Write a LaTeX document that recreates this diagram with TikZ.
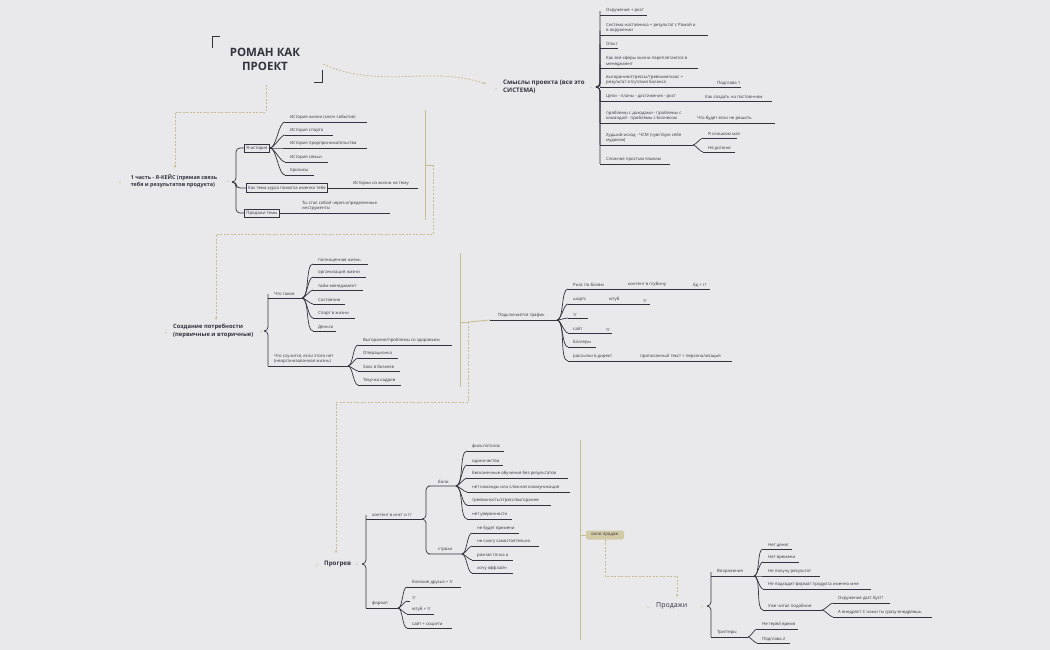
\documentclass[tikz,border=0pt]{standalone}
\usepackage{fontspec}
\setmainfont{Open Sans}
\usetikzlibrary{arrows.meta}
\definecolor{bg}{HTML}{E9E9EB}
\definecolor{ink}{HTML}{33333F}
\definecolor{gold}{HTML}{C8BD92}
\definecolor{goldbox}{HTML}{D3CAA6}
\tikzset{
  lt/.style={inner sep=0pt,anchor=south west,align=left,text=ink,font=\fontsize{4.3}{5.6}\selectfont},
  ln/.style={draw=ink,line width=0.7pt},
  br/.style={out=0,in=180,looseness=0.55},
  el/.style={ln,rounded corners=4pt},
  gd/.style={draw=gold,line width=0.8pt,dash pattern=on 2pt off 1.5pt},
  gs/.style={draw=gold,line width=0.9pt},
  main/.style={inner sep=0pt,align=left,text=ink,font=\bfseries\fontsize{6.2}{8}\selectfont},
  qt/.style={inner sep=0pt,text=gold,font=\fontsize{6}{6}\selectfont},
  bx/.style={draw=ink,line width=0.7pt,inner sep=2pt,text=ink,font=\fontsize{4.3}{5.6}\selectfont},
}
\newcommand\mmLeaf[6]{%
  \coordinate (#1u) at (#3,#4);
  \node[lt] (#1) at ({#3+5},{#4-1.8}) {#6};
  \draw[ln] (#1u) -- (#5,#4);
  \draw[ln] (#2) to[br] (#1u);}
\newcommand\mmElb[6]{%
  \coordinate (#1u) at (#3,#4);
  \node[lt] (#1) at ({#3+6},{#4-1.8}) {#6};
  \draw[ln] (#1u) -- (#5,#4);
  \draw[el] (#2) -- ++(4,0) |- (#1u);}
\newcommand\mmCont[6]{%
  \node[lt] (#1) at (#5,{#3-1.8}) {#6};
  \draw[ln] (#2,#3) -- (#4,#3);}
\begin{document}
\begin{tikzpicture}[x=1pt,y=-1pt]
\fill[bg] (0,0) rectangle (1050,650);
\useasboundingbox (0,0) rectangle (1050,650);

% ---------- title ----------
\node[inner sep=0pt,align=center,text=ink,font=\bfseries\fontsize{11.5}{14}\selectfont] (title) at (265,59) {РОМАН КАК\\ПРОЕКТ};
\draw[ink,line width=0.8pt] (212,48) -- (212,36) -- (220,36);
\draw[ink,line width=0.8pt] (314,82) -- (322,82) -- (322,70);

% ---------- section 1 ----------
\node[main,font=\bfseries\fontsize{5.4}{7}\selectfont] (s1) at (174,181) {1 часть - Я-КЕЙС (прямая связь\\тебя и результатов продукта)};
\node[qt] (s1q1) at (120,184) {“};
\node[qt] (s1q2) at (228,183) {”};
\coordinate (j1) at (232,182);
\node[bx] (ya) at (257,148) {Я-история};
\node[bx] (kak) at (287,188) {Как тема курса помогла именно тебе};
\node[bx] (prt) at (262,213) {Продажи темы};
\draw[el] (j1) -- ++(4,0) |- (ya.west);
\draw[el] (j1) -- ++(4,0) |- (kak.west);
\draw[el] (j1) -- ++(4,0) |- (prt.west);
\coordinate (jya) at (ya.east);
\mmLeaf{a1}{jya}{285}{122}{367}{История жизни (ключ событие)}
\mmLeaf{a2}{jya}{285}{135}{333}{История спорта}
\mmLeaf{a3}{jya}{285}{148}{367}{История предпринимательства}
\mmLeaf{a4}{jya}{285}{162}{328}{История семьи}
\mmLeaf{a5}{jya}{285}{175}{314}{Кризисы}
\draw[ln] (kak.east) -- (418,188);
\node[lt] (a6) at (353,186.2) {Истории из жизни на тему};
\draw[ln] (prt.east) -- (390,213);
\node[lt] (a7) at (302,211) {Ты стал собой через определенные\\инструменты};

% ---------- Смыслы ----------
\node[main,anchor=west] (s2) at (503,87) {Смыслы проекта (все это\\СИСТЕМА)};
\node[qt] (s2q1) at (496,90) {“};
\node[qt] (s2q2) at (591,89) {”};
\coordinate (j2) at (596,87);
\mmElb{b1}{j2}{600}{15}{647}{Окружение + рост}
\mmElb{b2}{j2}{600}{35}{708}{Система наставника = результат с Ромой и\\в окружении}
\mmElb{b3}{j2}{600}{48}{618}{Опыт}
\mmElb{b4}{j2}{600}{68}{698}{Как все сферы жизни переплетаются в\\менеджмент}
\mmElb{b5}{j2}{600}{87}{711}{выгорание/стрессы/тревожке/хаос =\\результат отсутсвия баланса}
\mmCont{b5a}{711}{87}{741}{717}{Подглава 1}
\mmElb{b6}{j2}{600}{101}{680}{Цели - планы - достижения - рост}
\mmCont{b6a}{680}{101}{772}{705}{Как создать на постоянном}
\mmElb{b7}{j2}{600}{123}{680}{проблемы с доходами - проблемы с\\командой - проблемы с бизнесом}
\mmCont{b7a}{680}{123}{775}{697}{Что будет если не решить}
\mmElb{b8}{j2}{600}{145}{693}{Худший исход - ЧСМ (чувствую себя\\мудаком)}
\coordinate (jb8) at (693,145);
\mmLeaf{b8a}{jb8}{703}{138}{737}{Я слишком мал}
\mmLeaf{b8b}{jb8}{703}{152}{735}{Не догоню}
\mmElb{b9}{j2}{600}{164}{670}{Сложное простым языком}

% ---------- Создание потребности ----------
\node[main,anchor=west,font=\bfseries\fontsize{5.8}{7.5}\selectfont] (s3) at (173,331) {Создание потребности\\(первичные и вторичные)};
\node[qt] (s3q1) at (166,334) {“};
\node[qt] (s3q2) at (261,333) {”};
\coordinate (j3) at (264,331);
\mmElb{c1}{j3}{268}{298}{302}{Что такое}
\coordinate (jc1) at (302,298);
\mmLeaf{c11}{jc1}{313}{264}{368}{полноценная жизнь}
\mmLeaf{c12}{jc1}{313}{277}{366}{организация жизни}
\mmLeaf{c13}{jc1}{313}{290}{363}{тайм-менеджмент}
\mmLeaf{c14}{jc1}{313}{304}{345}{Состояние}
\mmLeaf{c15}{jc1}{313}{318}{355}{Спорт в жизни}
\mmLeaf{c16}{jc1}{313}{331}{336}{Деньги}
\mmElb{c2}{j3}{268}{366}{348}{Что случится, если этого нет\\(неорганизованная жизнь)}
\coordinate (jc2) at (348,366);
\mmLeaf{c21}{jc2}{358}{345}{452}{Выгорание/проблемы со здоровьем}
\mmLeaf{c22}{jc2}{358}{358}{398}{Операционка}
\mmLeaf{c23}{jc2}{358}{371}{400}{Хаос в бизнесе}
\mmLeaf{c24}{jc2}{358}{385}{401}{Текучка кадров}

% ---------- Подключается трафик ----------
\node[lt] (s4) at (498,318.2) {Подключается трафик};
\coordinate (s4u) at (490,320);
\draw[ln] (s4u) -- (557,320);
\coordinate (j4) at (557,320);
\mmLeaf{d1}{j4}{568}{289}{628}{Рилс по болям}
\mmCont{d1a}{628}{289}{693}{628}{контент в глубину}
\mmCont{d1b}{693}{289}{710}{693}{бд + тг}
\mmLeaf{d2}{j4}{568}{304}{609}{шортс}
\mmCont{d2a}{609}{304}{643}{609}{ютуб}
\mmCont{d2b}{643}{304}{650}{643}{тг}
\mmLeaf{d3}{j4}{568}{318}{588}{тг}
\mmLeaf{d4}{j4}{568}{333}{606}{сайт}
\mmCont{d4a}{606}{333}{612}{606}{тг}
\mmLeaf{d5}{j4}{568}{347}{596}{Блогеры}
\mmLeaf{d6}{j4}{568}{361}{640}{рассылки в директ}
\mmCont{d6a}{640}{361}{732}{640}{прописанный текст + персонализация}

% ---------- Прогрев ----------
\node[main,anchor=west] (s5) at (324,564) {Прогрев};
\node[qt] (s5q1) at (317,567) {“};
\node[qt] (s5q2) at (357,566) {”};
\coordinate (j5) at (362,564);
\mmElb{e1}{j5}{366}{519}{422}{контент в инст и тг}
\coordinate (je1) at (422,519);
\draw[el] (je1) -- ++(4,0) |- (432,486) -- (456,486);
\node[lt] (e11) at (438,484.2) {боли};
\draw[el] (je1) -- ++(4,0) |- (432,554) -- (462,554);
\node[lt] (e12) at (438,552.2) {страхи};
\coordinate (je11) at (456,486);
\mmLeaf{f1}{je11}{467}{451}{504}{фильпотолок}
\mmLeaf{f2}{je11}{467}{465}{503}{одиночество}
\mmLeaf{f3}{je11}{467}{478}{568}{бесконечные обучения без результатов}
\mmLeaf{f4}{je11}{467}{492}{570}{нет команды или сложная коммуникация}
\mmLeaf{f5}{je11}{467}{505}{551}{тревожность/стресс/выгорание}
\mmLeaf{f6}{je11}{467}{519}{512}{нет уверенности}
\coordinate (je12) at (462,554);
\mmLeaf{g1}{je12}{472}{533}{519}{не будет времени}
\mmLeaf{g2}{je12}{472}{546}{539}{не смогу самостоятельно}
\mmLeaf{g3}{je12}{472}{560}{513}{разная точка а}
\mmLeaf{g4}{je12}{472}{573}{513}{хочу оффлайн}
\mmElb{e2}{j5}{366}{608}{398}{формат}
\coordinate (je2) at (398,608);
\mmLeaf{h1}{je2}{407}{587}{461}{близкие друзья + тг}
\mmLeaf{h2}{je2}{407}{601}{410}{тг}
\mmLeaf{h3}{je2}{407}{614}{434}{ютуб + тг}
\mmLeaf{h4}{je2}{407}{628}{452}{сайт + соцсети}

% ---------- окно продаж / Продажи ----------
\node[fill=goldbox,rounded corners=2pt,minimum width=38pt,minimum height=9pt,inner sep=1pt,text=ink,font=\fontsize{4.3}{5}\selectfont] (okno) at (605,535) {окно продаж};
\node[inner sep=0pt,anchor=west,text=ink,font=\fontsize{7}{8}\selectfont] (s6) at (656,606) {Продажи};
\node[qt] (s6q1) at (648,609) {“};
\node[qt] (s6q2) at (702,608) {”};
\coordinate (j6) at (707,606);
\mmElb{k1}{j6}{711}{576}{754}{Возражения}
\coordinate (jk1) at (754,576);
\mmLeaf{k11}{jk1}{763}{549}{792}{Нет денег}
\mmLeaf{k12}{jk1}{763}{562}{799}{Нет времени}
\mmLeaf{k13}{jk1}{763}{576}{820}{Не получу результат}
\mmLeaf{k14}{jk1}{763}{589}{871}{Не подходит формат продукта именно мне}
\mmLeaf{k15}{jk1}{763}{610}{822}{Уже читал подобное}
\coordinate (jk15) at (822,610);
\mmLeaf{k151}{jk15}{833}{603}{890}{Окружение даст буст!}
\mmLeaf{k152}{jk15}{833}{617}{932}{А внедрял? С нами ты сразу внедряешь}
\mmElb{k2}{j6}{711}{637}{748}{Триггеры}
\coordinate (jk2) at (748,637);
\mmLeaf{k21}{jk2}{757}{629}{798}{Не теряй время}
\mmLeaf{k22}{jk2}{757}{643}{790}{Подглава 2}

% ---------- gold relations ----------
\coordinate (t1) at (266,85);
\draw[gd,-{Latex[length=2.5pt,width=2.5pt]}] (t1) -- (266,112) -- (175,112) -- (175,168);
\coordinate (t2) at (323,64);
\draw[gd,-{Latex[length=2.5pt,width=2.5pt]}] (t2) .. controls (380,90) and (430,65) .. (486,84);
\draw[gs] (425,110) -- (425,220);
\draw[gs] (425,165) -- (433,165);
\coordinate (r1) at (433,165);
\draw[gd,-{Latex[length=2.5pt,width=2.5pt]}] (r1) -- (433,234) -- (216,234) -- (216,320);
\draw[gs] (460,253) -- (460,387);
\draw[gs] (460,322) -- (468,322);
\coordinate (r2) at (468,322);
\draw[gs] (r2) -- (s4u);
\draw[gd,-{Latex[length=2.5pt,width=2.5pt]}] (r2) -- (468,402) -- (336,402) -- (336,553);
\draw[gs] (580,440) -- (580,640);
\draw[gs] (580,535) -- (okno.west);
\draw[gd,-{Latex[length=2.5pt,width=2.5pt]}] (okno.south) -- (605,576) -- (677,576) -- (677,597);
\end{tikzpicture}
\end{document}
